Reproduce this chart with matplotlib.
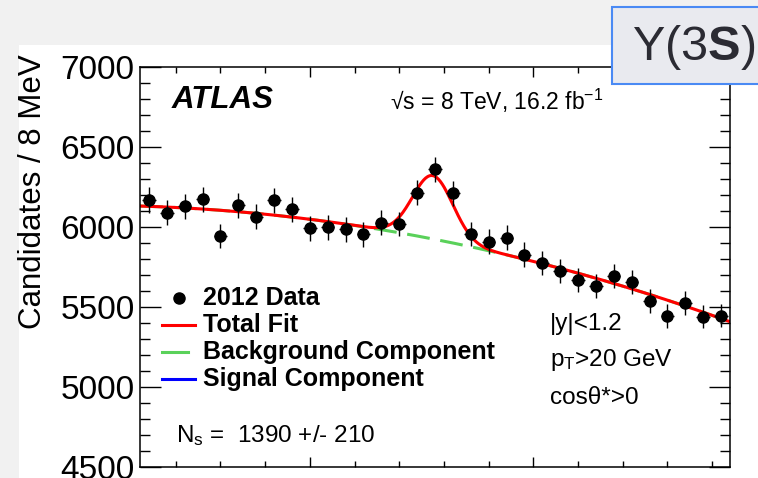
import numpy as np
import matplotlib
matplotlib.use("Agg")
import matplotlib.pyplot as plt
from matplotlib.patches import Rectangle
from matplotlib.lines import Line2D

plt.rcParams['font.family'] = ['Liberation Sans', 'DejaVu Sans']
plt.rcParams['mathtext.fontset'] = 'custom'
plt.rcParams['mathtext.rm'] = 'Liberation Sans'
plt.rcParams['mathtext.it'] = 'Liberation Sans:italic'
plt.rcParams['mathtext.bf'] = 'Liberation Sans:bold'

# binned dimuon mass spectrum, 8 MeV bins
mass_lo = 10.224
bin_w = 0.008
counts = [6169, 6090, 6131, 6173, 5944, 6136, 6065, 6167, 6110, 5992, 5998,
          5986, 5954, 6027, 6019, 6214, 6360, 6210, 5956, 5908, 5933, 5828,
          5777, 5725, 5669, 5631, 5696, 5654, 5540, 5444, 5527, 5440, 5446]

# fit results: quadratic background (in normalised mass) + gaussian peak
bkg_coef = [6131.0, -111.0, -612.0]
sig_mean = 10.355
sig_sigma = 0.009
sig_amp = 396.0

legend_labels = ["2012 Data", "Total Fit", "Background Component", "Signal Component"]
cut_labels = ["|y|<1.2", r"p$_{\mathrm{T}}$>20 GeV", "cos\u03b8*>0"]

n_bins = len(counts)
mass_hi = mass_lo + n_bins * bin_w
centers = mass_lo + bin_w * (np.arange(n_bins) + 0.5)
counts = np.array(counts, dtype=float)

W, H = 758, 478
fig = plt.figure(figsize=(W / 100, H / 100), dpi=100)
fig.patch.set_facecolor('#f1f1f1')
fig.patches.append(Rectangle((19 / W, 0), 1, (H - 45) / H, transform=fig.transFigure,
                             facecolor='white', edgecolor='none', zorder=-5))

ax = fig.add_axes([140 / W, (H - 467) / H, 590 / W, 400 / H])
ax.set_zorder(1)
ax.set_xlim(mass_lo, mass_hi)
ax.set_ylim(4500, 7000)

m = np.linspace(mass_lo, mass_hi, 600)
u = (m - mass_lo) / (mass_hi - mass_lo)
bkg = bkg_coef[0] + bkg_coef[1] * u + bkg_coef[2] * u ** 2
sig = sig_amp * np.exp(-0.5 * ((m - sig_mean) / sig_sigma) ** 2)

ax.plot(m, sig, color='#0000ff', lw=2.2)
ax.plot(m, bkg, color='#5ad15a', lw=2.2, dashes=(7.5, 3.5))
ax.plot(m, bkg + sig, color='#ff0000', lw=2.2)

ax.errorbar(centers, counts, yerr=np.sqrt(counts), xerr=bin_w / 2 * 0.75,
            fmt='o', color='black', ms=8, elinewidth=1.0, capsize=0, zorder=5)

ax.yaxis.set_major_locator(plt.MultipleLocator(500))
ax.yaxis.set_minor_locator(plt.MultipleLocator(100))
ax.xaxis.set_major_locator(plt.MultipleLocator(0.1))
ax.xaxis.set_minor_locator(plt.MultipleLocator(0.02))
ax.tick_params(axis='both', which='both', direction='in', top=True, right=True,
               width=1.0, color='black')
ax.tick_params(axis='y', which='major', length=15, labelsize=24, pad=4)
ax.tick_params(axis='y', which='minor', length=7.5)
ax.tick_params(axis='x', which='major', length=7.5, labelbottom=False)
ax.tick_params(axis='x', which='minor', length=4.5)
for s in ax.spines.values():
    s.set_linewidth(1.1)

fig.text(33 / W, 1 - 192 / H, "Candidates / 8 MeV", rotation=90, fontsize=22.5,
         ha='center', va='center')

def fx(px):
    return px / W

def fy(py):
    return 1 - py / H

fig.text(fx(172), fy(100), "ATLAS", fontsize=22.5, fontweight='bold', fontstyle='italic',
         ha='left', va='center', zorder=6)
fig.text(fx(390), fy(101), "\u221as = 8 TeV, 16.2 fb$^{-1}$", fontsize=16.5,
         ha='left', va='center', zorder=6)

# legend drawn by hand to keep ROOT-style spacing
rows = [298, 325, 352, 379]
fig.add_artist(Line2D([fx(179)], [fy(rows[0])], marker='o', ms=8, color='black',
                      transform=fig.transFigure, zorder=6))
fig.add_artist(Line2D([fx(162), fx(195)], [fy(rows[1])] * 2, color='#ff0000', lw=2.2,
                      transform=fig.transFigure, zorder=6))
fig.add_artist(Line2D([fx(162), fx(188)], [fy(rows[2])] * 2, color='#5ad15a', lw=2.2,
                      transform=fig.transFigure, zorder=6))
fig.add_artist(Line2D([fx(162), fx(195)], [fy(rows[3])] * 2, color='#0000ff', lw=2.2,
                      transform=fig.transFigure, zorder=6))
for r, lab in zip(rows, legend_labels):
    fig.text(fx(203), fy(r), lab, fontsize=18, fontweight='bold', ha='left', va='center',
             zorder=6)

for yy, lab in zip([324, 360, 398], cut_labels):
    fig.text(fx(550), fy(yy), lab, fontsize=17.5, ha='left', va='center', zorder=6)

fig.text(fx(176), fy(436), "N$_{\\mathrm{s}}$ =  1390 +/- 210", fontsize=17.5,
         ha='left', va='center', zorder=6)

# state label box in the corner
fig.patches.append(Rectangle((612 / W, fy(84)), 0.3, 77 / H, transform=fig.transFigure,
                             facecolor='#e9eaef', edgecolor='#4a8af4', lw=1.5, zorder=7))
fig.text(fx(694), fy(47), "Y(3$\\mathbf{S}$)", fontsize=35, color='#2b2b33',
         ha='center', va='center', zorder=8)

fig.savefig("out.png", dpi=100)
